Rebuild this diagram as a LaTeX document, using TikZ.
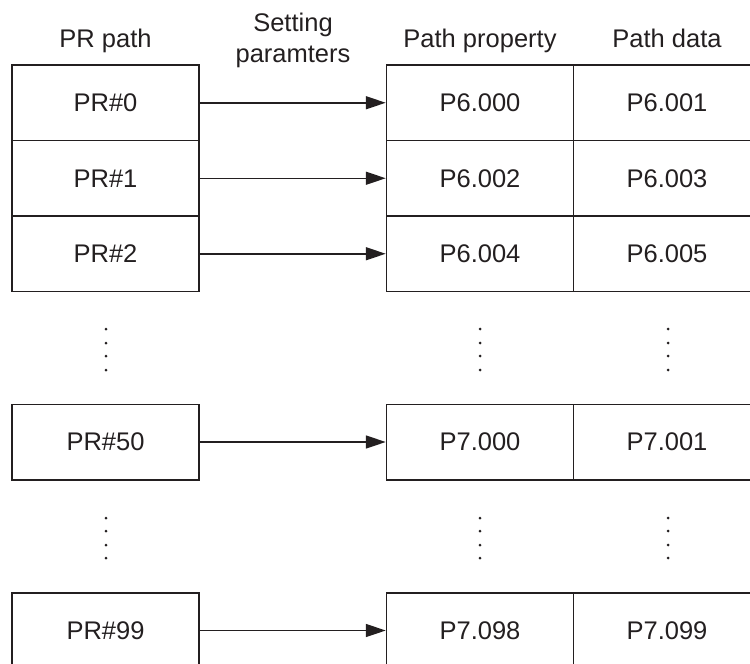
\documentclass[tikz,border=0pt]{standalone}
\usepackage{fontspec}
\setmainfont{Liberation Sans}
\usetikzlibrary{arrows.meta, positioning}
\definecolor{inkgray}{RGB}{35, 31, 32}
\tikzset{
  >=Stealth,
  setarrow/.style={-{Triangle[length=20pt, width=13pt]}, line width=1.5pt, inkgray},
  prbox/.style={draw=inkgray, line width=1.5pt, minimum width=187pt, minimum height=75.5pt, inner sep=0pt},
  headlabel/.style={anchor=base, inner sep=0pt, text=inkgray},
  vdot/.style={circle, fill=inkgray, inner sep=0pt, minimum size=3pt}
}

\begin{document}
\begin{tikzpicture}[x=1pt, y=-1pt, font=\fontsize{25.5}{30.5}\selectfont]
    \useasboundingbox (0,0) rectangle (750,664);
    % column headings
    \node[headlabel] (hpr) at (105.5,47) {PR path};
    \node[headlabel, align=center] (hset) at (293,62) {Setting\\paramters};
    \node[headlabel] (hprop) at (480,47) {Path property};
    \node[headlabel] (hdata) at (667,47) {Path data};
    % rows: PR path -> property and data
    \foreach \row/\ypos/\prname/\propname/\dataname in {
        0/102.75/PR\#0/P6.000/P6.001,
        1/178.25/PR\#1/P6.002/P6.003,
        2/253.75/PR\#2/P6.004/P6.005,
        50/442/PR\#50/P7.000/P7.001,
        99/630.5/PR\#99/P7.098/P7.099} {
        \node[prbox, text=inkgray] (pr\row) at (105.5,\ypos) {\prname};
        \node[prbox, text=inkgray] (prop\row) at (480,\ypos) {\propname};
        \node[prbox, text=inkgray] (data\row) at (667,\ypos) {\dataname};
        \draw[setarrow] (pr\row.east) -- (prop\row.west);
    }
    % vertical ellipsis
    \foreach \xpos/\cname in {106/a, 480/b, 668/c} {
        \foreach \ypos [count=\k] in {329, 343, 356, 370} {
            \node[vdot] (dup\cname\k) at (\xpos,\ypos) {};
        }
        \foreach \ypos [count=\k] in {518, 531, 545, 558} {
            \node[vdot] (dlo\cname\k) at (\xpos,\ypos) {};
        }
    }
\end{tikzpicture}
\end{document}
